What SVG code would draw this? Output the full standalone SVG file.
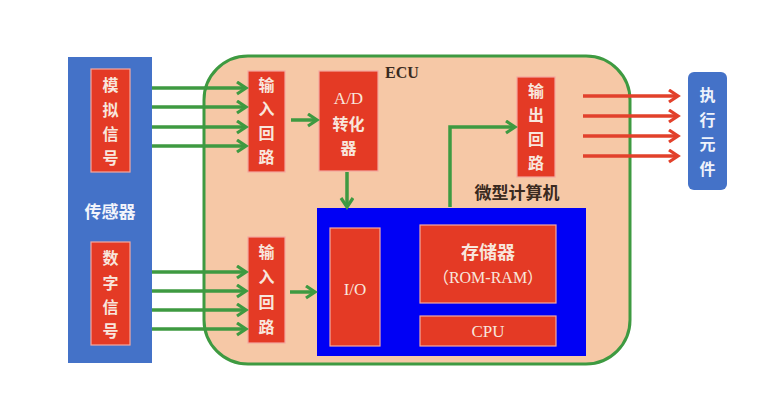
<svg xmlns="http://www.w3.org/2000/svg" width="778" height="406" viewBox="0 0 778 406">
<defs>
<marker id="ag" markerUnits="userSpaceOnUse" markerWidth="16" markerHeight="16" refX="11" refY="7" orient="auto">
<path d="M2,1 L11,7 L2,13" fill="none" stroke="#3e9a41" stroke-width="3.2"/>
</marker>
<marker id="ar" markerUnits="userSpaceOnUse" markerWidth="16" markerHeight="16" refX="11" refY="7" orient="auto">
<path d="M2,1 L11,7 L2,13" fill="none" stroke="#e2412b" stroke-width="3.2"/>
</marker>
<style>
.red{fill:#e43a25;stroke:#f3a8a0;stroke-width:1.2}
.vt{font-family:"Noto Sans CJK SC","Liberation Serif",serif;font-size:16px;fill:#f8e6dd;text-anchor:middle;font-weight:bold}
.lt{font-family:"Liberation Serif","Noto Sans CJK SC",serif;font-size:17px;fill:#f8e6dd;text-anchor:middle}
.g{stroke:#3e9a41;stroke-width:3.5;fill:none;marker-end:url(#ag)}
.r{stroke:#e2412b;stroke-width:3.5;fill:none;marker-end:url(#ar)}
.dk{font-family:"Noto Sans CJK SC","Liberation Serif",serif;font-weight:bold;fill:#3a2a20}
</style>
</defs>
<rect width="778" height="406" fill="#ffffff"/>

<g id="ecu">
<rect x="204" y="56" width="426" height="308" rx="44" fill="#f6c8a6" stroke="#3e9a41" stroke-width="3"/>
<text x="402" y="78" class="dk" style="font-family:'Liberation Serif',serif;font-size:16px;text-anchor:middle">ECU</text>
</g>

<g id="sensor">
<rect x="68" y="57" width="84" height="306" fill="#4472c8"/>
<text x="110" y="218" class="dk" style="fill:#f2f4fb;font-size:17px;text-anchor:middle">传感器</text>
</g>

<g id="analog">
<rect class="red" x="91" y="69" width="39" height="103"/>
<text class="vt"><tspan x="110.5" y="91">模</tspan><tspan x="110.5" y="116">拟</tspan><tspan x="110.5" y="140">信</tspan><tspan x="110.5" y="164">号</tspan></text>
</g>

<g id="digital">
<rect class="red" x="91" y="242" width="39" height="103"/>
<text class="vt"><tspan x="110.5" y="264">数</tspan><tspan x="110.5" y="289">字</tspan><tspan x="110.5" y="313">信</tspan><tspan x="110.5" y="337">号</tspan></text>
</g>

<g id="input1">
<rect class="red" x="248" y="71" width="37" height="101"/>
<text class="vt"><tspan x="266.5" y="91">输</tspan><tspan x="266.5" y="115">入</tspan><tspan x="266.5" y="139">回</tspan><tspan x="266.5" y="163">路</tspan></text>
</g>

<g id="input2">
<rect class="red" x="248" y="237" width="37" height="106"/>
<text class="vt"><tspan x="266.5" y="258">输</tspan><tspan x="266.5" y="283">入</tspan><tspan x="266.5" y="308">回</tspan><tspan x="266.5" y="333">路</tspan></text>
</g>

<g id="adc">
<rect class="red" x="319" y="71" width="59" height="100"/>
<text class="lt" x="348.5" y="104">A/D</text>
<text class="vt"><tspan x="348.5" y="130">转化</tspan><tspan x="348.5" y="154">器</tspan></text>
</g>

<g id="output">
<rect class="red" x="517" y="77" width="38" height="100"/>
<text class="vt"><tspan x="536" y="97">输</tspan><tspan x="536" y="121">出</tspan><tspan x="536" y="145">回</tspan><tspan x="536" y="169">路</tspan></text>
</g>

<g id="actuator">
<rect x="688" y="72" width="39" height="118" rx="6" fill="#4472c8"/>
<text class="vt" style="fill:#eef2fb"><tspan x="707.5" y="101">执</tspan><tspan x="707.5" y="126">行</tspan><tspan x="707.5" y="150">元</tspan><tspan x="707.5" y="175">件</tspan></text>
</g>

<g id="microcomputer">
<text x="517" y="199" class="dk" style="font-size:17px;text-anchor:middle">微型计算机</text>
<rect x="317" y="208" width="269" height="148" fill="#0000f5"/>
</g>

<g id="io">
<rect class="red" x="330" y="228" width="50" height="118"/>
<text class="lt" x="355" y="295">I/O</text>
</g>

<g id="memory">
<rect class="red" x="420" y="225" width="136" height="78"/>
<text class="vt" x="488" y="259" style="font-size:18px">存储器</text>
<text class="lt" x="488" y="283" style="font-size:16px">（ROM-RAM）</text>
</g>

<g id="cpu">
<rect class="red" x="420" y="316" width="136" height="30"/>
<text class="lt" x="488" y="337">CPU</text>
</g>

<g id="connectors">
<line class="g" x1="152" y1="88" x2="246" y2="88"/>
<line class="g" x1="152" y1="107" x2="246" y2="107"/>
<line class="g" x1="152" y1="127" x2="246" y2="127"/>
<line class="g" x1="152" y1="146" x2="246" y2="146"/>
<line class="g" x1="152" y1="272" x2="246" y2="272"/>
<line class="g" x1="152" y1="291" x2="246" y2="291"/>
<line class="g" x1="152" y1="310" x2="246" y2="310"/>
<line class="g" x1="152" y1="329" x2="246" y2="329"/>
<line class="g" x1="291" y1="120" x2="317" y2="120"/>
<line class="g" x1="347" y1="172" x2="347" y2="207"/>
<line class="g" x1="290" y1="292" x2="315" y2="292"/>
<polyline class="g" points="450,207 450,127 515,127"/>
<line class="r" x1="583" y1="96" x2="678" y2="96"/>
<line class="r" x1="583" y1="116" x2="678" y2="116"/>
<line class="r" x1="583" y1="136" x2="678" y2="136"/>
<line class="r" x1="583" y1="156" x2="678" y2="156"/>
</g>
</svg>
